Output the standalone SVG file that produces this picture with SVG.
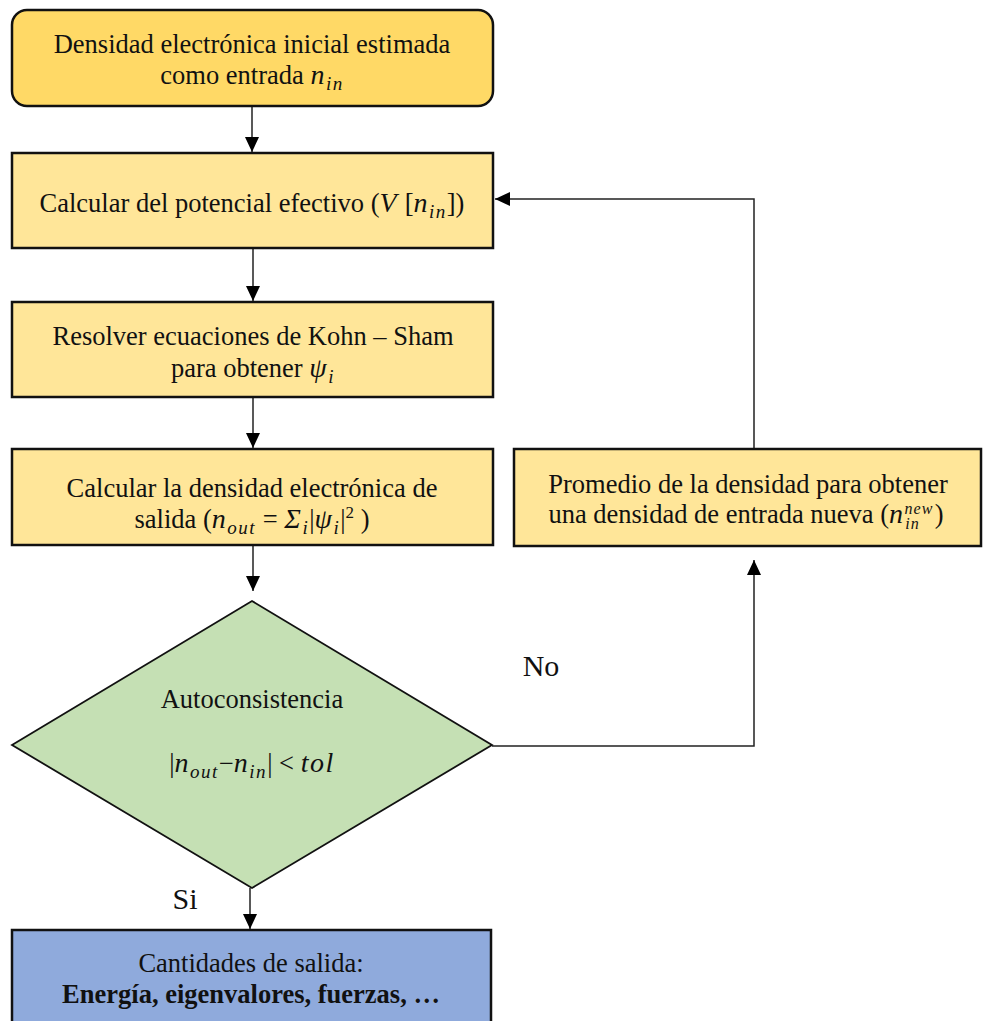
<svg xmlns="http://www.w3.org/2000/svg" width="984" height="1021" viewBox="0 0 984 1021">
<defs>
<marker id="ah" markerUnits="userSpaceOnUse" markerWidth="16" markerHeight="16" viewBox="0 0 16 16" refX="15" refY="8" orient="auto">
<path d="M0,1 L15,8 L0,15 Z" fill="#000"/>
</marker>
<style>
.t{font-size:26.5px;fill:#111;text-anchor:middle}
.m{font-style:italic;font-size:28px;letter-spacing:1.5px}
.s{font-size:19px;font-style:italic;letter-spacing:1.5px}
.u{font-size:16px;font-style:italic;letter-spacing:1px}
.box{stroke:#111;stroke-width:2.5}
.c{fill:none;stroke:#222;stroke-width:1.5}
</style>
</defs>
<rect width="984" height="1021" fill="#fff"/>
<g id="connectors">
<line class="c" x1="252" y1="106" x2="252" y2="152" marker-end="url(#ah)"/>
<line class="c" x1="253" y1="248" x2="253" y2="301" marker-end="url(#ah)"/>
<line class="c" x1="253" y1="397" x2="253" y2="448" marker-end="url(#ah)"/>
<line class="c" x1="253" y1="546" x2="253" y2="591" marker-end="url(#ah)"/>
<line class="c" x1="250" y1="888" x2="250" y2="929" marker-end="url(#ah)"/>
<polyline class="c" points="492,746 754,746 754,560" marker-end="url(#ah)"/>
<polyline class="c" points="754,449 754,199 495,199" marker-end="url(#ah)"/>
</g>
<g id="n1">
<rect class="box" x="12" y="10" width="481" height="96" rx="15" fill="#FFD966"/>
<text class="t" x="252" y="53" font-family="Liberation Serif, serif">Densidad electrónica inicial estimada</text>
<text class="t" x="252" y="84" font-family="Liberation Serif, serif">como entrada <tspan class="m">n</tspan><tspan class="s" dy="6">in</tspan></text>
</g>
<g id="n2">
<rect class="box" x="12" y="153" width="481" height="95" fill="#FFE699"/>
<text class="t" x="252" y="212" font-family="Liberation Serif, serif">Calcular del potencial efectivo (<tspan class="m">V</tspan> [<tspan class="m">n</tspan><tspan class="s" dy="6">in</tspan><tspan dy="-6">])</tspan></text>
</g>
<g id="n3">
<rect class="box" x="12" y="302" width="481" height="95" fill="#FFE699"/>
<text class="t" x="253" y="345" font-family="Liberation Serif, serif">Resolver ecuaciones de Kohn – Sham</text>
<text class="t" x="253" y="377" font-family="Liberation Serif, serif">para obtener <tspan class="m">ψ</tspan><tspan class="s" dy="6">i</tspan></text>
</g>
<g id="n4">
<rect class="box" x="12" y="449" width="481" height="96" fill="#FFE699"/>
<text class="t" x="252" y="497" font-family="Liberation Serif, serif">Calcular la densidad electrónica de</text>
<text class="t" x="252" y="528" font-family="Liberation Serif, serif">salida (<tspan class="m">n</tspan><tspan class="s" dy="6">out</tspan><tspan dy="-6"> = </tspan><tspan class="m">Σ</tspan><tspan class="s" dy="6">i</tspan><tspan dy="-6">|</tspan><tspan class="m">ψ</tspan><tspan class="s" dy="6">i</tspan><tspan dy="-6">|</tspan><tspan style="font-size:17px" dy="-10">2</tspan><tspan dy="10"> )</tspan></text>
</g>
<g id="n5">
<rect class="box" x="514" y="449" width="467" height="97" fill="#FFE699"/>
<text class="t" x="748" y="493" font-family="Liberation Serif, serif">Promedio de la densidad para obtener</text>
<text class="t" x="746" y="523" font-family="Liberation Serif, serif">una densidad de entrada nueva (<tspan class="m">n</tspan><tspan class="u" dy="-9">new</tspan><tspan class="u" dx="-28" dy="15">in</tspan><tspan dx="15" dy="-6">)</tspan></text>
</g>
<g id="n6">
<polygon points="12,745 252,601 492,745 252,888" fill="#C5E0B4" stroke="#111" stroke-width="1.8"/>
<text class="t" x="252" y="708" font-family="Liberation Serif, serif">Autoconsistencia</text>
<text class="t" x="252" y="772" font-family="Liberation Serif, serif">|<tspan class="m">n</tspan><tspan class="s" dy="6">out</tspan><tspan dy="-6">−</tspan><tspan class="m">n</tspan><tspan class="s" dy="6">in</tspan><tspan dy="-6">| &lt; </tspan><tspan class="m">tol</tspan></text>
</g>
<g id="n7">
<rect class="box" x="12" y="930" width="479" height="100" fill="#8FAADC"/>
<text class="t" x="251" y="972" font-family="Liberation Serif, serif">Cantidades de salida:</text>
<text class="t" x="251" y="1003" font-family="Liberation Serif, serif" font-weight="bold">Energía, eigenvalores, fuerzas, …</text>
</g>
<g id="labels">
<text class="t" x="541" y="676" font-family="Liberation Serif, serif" style="font-size:30px">No</text>
<text class="t" x="185" y="909" font-family="Liberation Serif, serif" style="font-size:30px">Si</text>
</g>
</svg>
